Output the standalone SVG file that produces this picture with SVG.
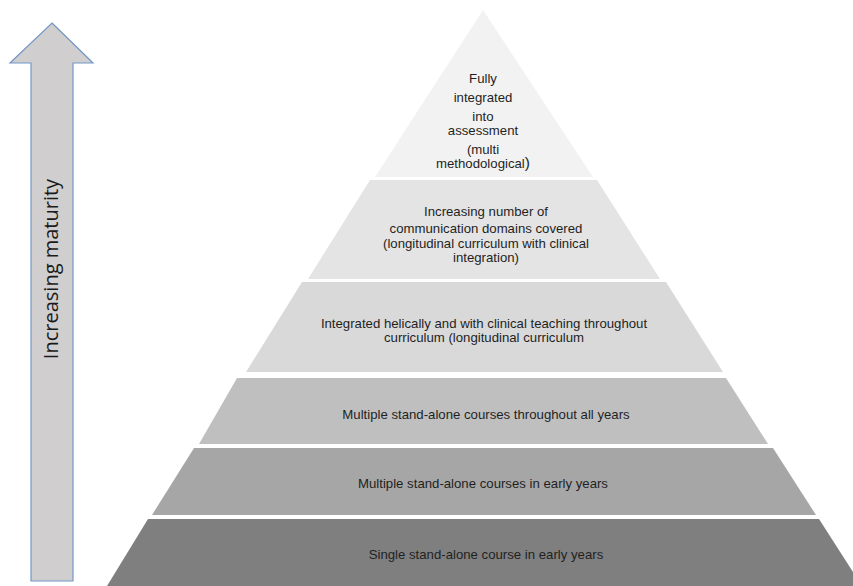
<svg xmlns="http://www.w3.org/2000/svg" width="853" height="586" viewBox="0 0 853 586">
<style>
  .lbl { font-family: "Liberation Sans", Arial, sans-serif; font-size: 13.2px; fill: #1f1f1f; text-anchor: middle; }
  .side { font-family: "Open Sans", "Liberation Sans", sans-serif; font-size: 20px; fill: #1a1a1a; text-anchor: middle; }
</style>
<rect width="853" height="586" fill="#ffffff"/>
<g id="arrow">
  <polygon points="52,23 93,63 73,63 73,581 31,581 31,63 10,63" fill="#d0cece" stroke="#7397c6" stroke-width="1.2"/>
  <text class="side" transform="translate(58,269) rotate(-90)">Increasing maturity</text>
</g>
<g id="connectors"></g>
<g id="level1">
  <polygon points="483,10 593,177 375,177" fill="#f2f2f2"/>
  <text class="lbl" x="483" y="83">Fully</text>
  <text class="lbl" x="483" y="102">integrated</text>
  <text class="lbl" x="483" y="121">into</text>
  <text class="lbl" x="483" y="135">assessment</text>
  <text class="lbl" x="483" y="154">(multi</text>
  <text class="lbl" x="483" y="168">methodological<tspan font-size="15.5">)</tspan></text>
</g>
<g id="level2">
  <polygon points="370,180 597,180 660,279 308,279" fill="#e4e4e4"/>
  <text class="lbl" x="486" y="216">Increasing number of</text>
  <text class="lbl" x="486" y="233">communication domains covered</text>
  <text class="lbl" x="486" y="248">(longitudinal curriculum with  clinical</text>
  <text class="lbl" x="486" y="262">integration)</text>
</g>
<g id="level3">
  <polygon points="302,282 666,282 723,372 246,372" fill="#d9d9d9"/>
  <text class="lbl" x="484" y="328">Integrated helically and with clinical teaching throughout</text>
  <text class="lbl" x="484" y="342">curriculum (longitudinal curriculum</text>
</g>
<g id="level4">
  <polygon points="237,378 726,378 768,444 199,444" fill="#bfbfbf"/>
  <text class="lbl" x="486" y="419">Multiple stand-alone courses throughout  all years</text>
</g>
<g id="level5">
  <polygon points="194,448 773,448 816,515 152,515" fill="#a6a6a6"/>
  <text class="lbl" x="483" y="488">Multiple stand-alone courses in early years</text>
</g>
<g id="level6">
  <polygon points="148,519 819,519 862,586 107,586" fill="#7f7f7f"/>
  <text class="lbl" x="486" y="559">Single stand-alone course in early years</text>
</g>
</svg>
